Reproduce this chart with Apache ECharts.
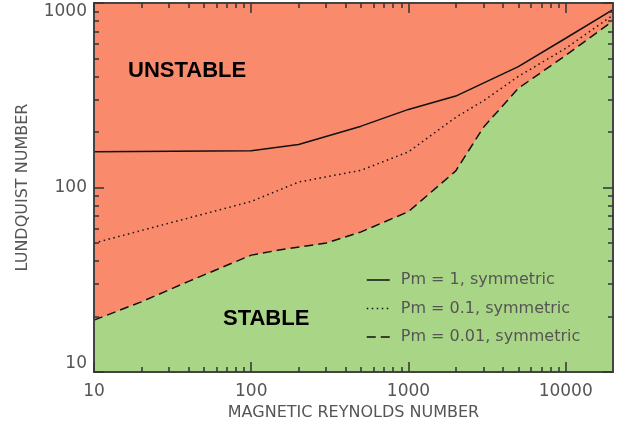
<!DOCTYPE html>
<html>
<head>
<meta charset="utf-8">
<script src="https://cdn.jsdelivr.net/npm/echarts@6/dist/echarts.min.js"></script>
<style>
  html, body { margin: 0; padding: 0; background: #fff; }
  #chart { width: 623px; height: 428px; }
</style>
</head>
<body>
<div id="chart"></div>
<script>
// magnetic Reynolds number (x) and Lundquist number (y)
const pm1Rm = [10, 100, 200, 500, 1000, 2000, 5000, 10000, 20000];
const pm1S = [156, 158, 171, 215, 265, 313, 452, 644, 920];

const pm01Rm = [10, 100, 200, 500, 1000, 2000, 3000, 5000, 10000, 20000];
const pm01S = [50, 84, 107, 124, 156, 240, 295, 400, 568, 860];

const pm001Rm = [10, 20, 40, 100, 150, 300, 500, 1000, 2000, 3000, 5000, 10000, 20000];
const pm001S = [19.1, 24, 31, 43, 45.8, 50, 57.5, 74, 123, 212, 345, 520, 800];

const seriesNames = ['Pm = 1, symmetric', 'Pm = 0.1, symmetric', 'Pm = 0.01, symmetric'];

// tick labels / tick positions
const rmRange = [10, 20000];
const sRange = [10, 1000];
const rmLabels = [10, 100, 1000, 10000];
const rmMinor = [20, 30, 40, 50, 60, 70, 80, 90, 200, 300, 400, 500, 600, 700, 800, 900,
  2000, 3000, 4000, 5000, 6000, 7000, 8000, 9000];
const sLabels = [10, 100, 1000];
const sMinor = [20, 30, 40, 50, 60, 70, 80, 90, 200, 300, 400, 500, 600, 700, 800, 900];

const pairs = (xs, ys) => xs.map((x, i) => [x, ys[i]]);

const textColor = '#555';
const font = 'DejaVu Sans';

const gridBox = { left: 94, right: 10, top: 3, bottom: 56 };

// tick-only axes on the log scales: major ticks at the decades, minor at 2..9
const tickAxis = (position, range, ticks, len) => ({
  type: 'log',
  logBase: 10,
  position: position,
  min: range[0],
  max: range[1],
  z: 10,
  axisLine: { show: false },
  axisTick: { show: true, inside: true, length: len, customValues: ticks,
    lineStyle: { color: '#333', width: 1.5 } },
  axisLabel: { show: false },
  splitLine: { show: false },
});

const frameLine = { show: true, lineStyle: { color: '#444', width: 2 } };

// plain frame sides (top / right)
const frameAxis = (position, range) => ({
  type: 'log',
  logBase: 10,
  position: position,
  min: range[0],
  max: range[1],
  z: 10,
  axisLine: frameLine,
  axisTick: { show: false },
  axisLabel: { show: false },
  splitLine: { show: false },
});

const myChart = echarts.init(document.getElementById('chart'));

const option = {
  animation: false,
  grid: Object.assign({
    show: true,
    backgroundColor: '#F98B6C',
    borderWidth: 0,
  }, gridBox),
  xAxis: [
    {
      type: 'log',
      logBase: 10,
      position: 'bottom',
      min: rmRange[0],
      max: rmRange[1],
      z: 10,
      axisLine: frameLine,
      axisTick: { show: false },
      splitLine: { show: false },
      name: 'MAGNETIC REYNOLDS NUMBER',
      nameLocation: 'middle',
      nameGap: 32,
      nameTextStyle: { fontFamily: font, fontSize: 16, color: textColor },
      axisLabel: { customValues: rmLabels, margin: 11,
        formatter: (v) => String(v),
        fontFamily: font, fontSize: 17, color: textColor },
    },
    frameAxis('top', rmRange),
    tickAxis('bottom', rmRange, rmLabels, 10),
    tickAxis('bottom', rmRange, rmMinor, 5),
    tickAxis('top', rmRange, rmLabels, 10),
    tickAxis('top', rmRange, rmMinor, 5),
  ],
  yAxis: [
    {
      type: 'log',
      logBase: 10,
      position: 'left',
      min: sRange[0],
      max: sRange[1],
      z: 10,
      axisLine: frameLine,
      axisTick: { show: false },
      splitLine: { show: false },
      name: 'LUNDQUIST NUMBER',
      nameLocation: 'middle',
      nameGap: 63,
      nameTextStyle: { fontFamily: font, fontSize: 16, color: textColor },
      axisLabel: { customValues: sLabels, margin: 7,
        formatter: (v) => String(v),
        verticalAlignMinLabel: 'bottom',
        verticalAlignMaxLabel: 'top',
        fontFamily: font, fontSize: 17, color: textColor },
    },
    frameAxis('right', sRange),
    tickAxis('left', sRange, sLabels, 10),
    tickAxis('left', sRange, sMinor, 5),
    tickAxis('right', sRange, sLabels, 10),
    tickAxis('right', sRange, sMinor, 5),
  ],
  legend: {
    orient: 'vertical',
    left: 361,
    top: 267,
    itemWidth: 23,
    itemHeight: 14,
    itemGap: 12.5,
    data: seriesNames,
    lineStyle: { width: 1.5 },
    itemStyle: { opacity: 0, color: 'transparent', borderWidth: 0 },
    textStyle: { fontFamily: font, fontSize: 16, color: textColor, lineHeight: 16,
      padding: [0, 0, 0, 6] },
  },
  series: [
    {
      name: seriesNames[2],
      type: 'line',
      symbol: 'none',
      data: pairs(pm001Rm, pm001S),
      lineStyle: { color: '#111', width: 1.5, type: [9, 5] },
      itemStyle: { color: '#111' },
      areaStyle: { color: '#A9D686', opacity: 1, origin: 'start' },
      z: 2,
    },
    {
      name: seriesNames[1],
      type: 'line',
      symbol: 'none',
      data: pairs(pm01Rm, pm01S),
      lineStyle: { color: '#111', width: 1.5, type: [1.5, 3.5] },
      itemStyle: { color: '#111' },
      z: 3,
    },
    {
      name: seriesNames[0],
      type: 'line',
      symbol: 'none',
      data: pairs(pm1Rm, pm1S),
      lineStyle: { color: '#111', width: 1.5 },
      itemStyle: { color: '#111' },
      z: 3,
    },
  ],
  graphic: [
    { type: 'text', left: 128, top: 60, z: 20,
      style: { text: 'UNSTABLE', font: 'bold 22px "Liberation Sans"', fill: '#000' } },
    { type: 'text', left: 223, top: 308, z: 20,
      style: { text: 'STABLE', font: 'bold 22px "Liberation Sans"', fill: '#000' } },
  ],
};
myChart.setOption(option);
</script>
</body>
</html>
